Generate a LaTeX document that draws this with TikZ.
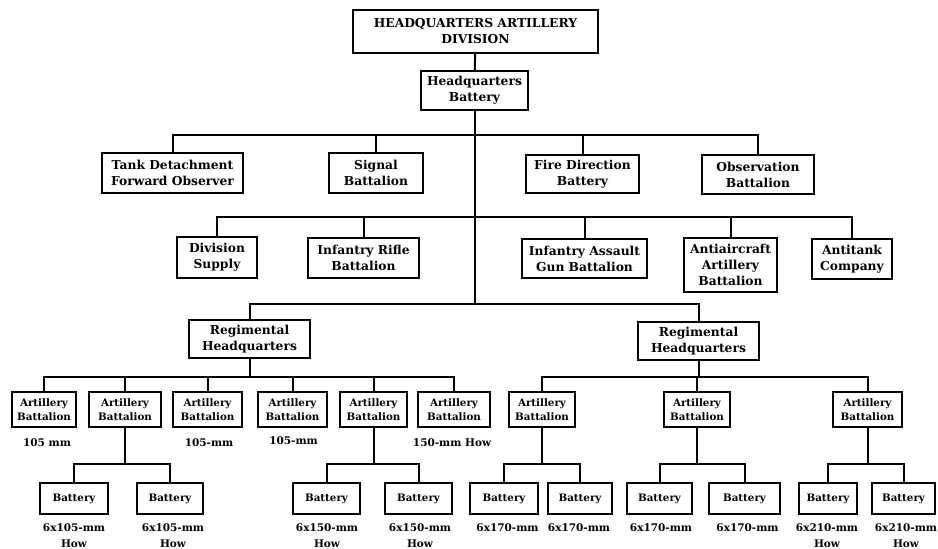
\documentclass[tikz,border=0pt]{standalone}
\usepackage{fontspec}
\setmainfont{DejaVu Serif}
\begin{document}
\begin{tikzpicture}[x=1pt,y=-1pt,
  bx/.style 2 args={draw, line width=2pt, minimum width=#1pt, minimum height=#2pt, inner sep=0pt, align=center, font=\bfseries\fontsize{12.3}{16}\selectfont},
  bsm/.style 2 args={bx={#1}{#2}, font=\bfseries\fontsize{10.3}{14}\selectfont},
  lbl/.style={inner sep=0pt, align=center, font=\bfseries\fontsize{10.5}{16}\selectfont},
  ln/.style={line width=2pt}]
\useasboundingbox (0,0) rectangle (938,549);
% top
\node[bx={245}{43}] (hqd) at (475.5,31.5) {HEADQUARTERS ARTILLERY\\DIVISION};
\node[bx={107}{39}] (hqb) at (474.5,90.5) {Headquarters\\Battery};
% row 1
\node[bx={141}{40}] (tank) at (172.5,173) {Tank Detachment\\Forward Observer};
\node[bx={94}{40}] (sig) at (376,173) {Signal\\Battalion};
\node[bx={113}{38}] (fire) at (582.5,174) {Fire Direction\\Battery};
\node[bx={112}{39}] (obs) at (758,174.5) {Observation\\Battalion};
% row 2
\node[bx={80}{41}] (dsup) at (217,257.5) {Division\\Supply};
\node[bx={111}{40}] (irb) at (363.5,258) {Infantry Rifle\\Battalion};
\node[bx={125}{39}] (iag) at (584.5,258.5) {Infantry Assault\\Gun Battalion};
\node[bx={93}{54}] (aaa) at (730.5,265) {Antiaircraft\\Artillery\\Battalion};
\node[bx={80}{40}] (atc) at (852,259) {Antitank\\Company};
% regimental
\node[bx={121}{38}] (rhqa) at (249.5,339) {Regimental\\Headquarters};
\node[bx={121}{38}] (rhqb) at (698.5,341) {Regimental\\Headquarters};
% battalions
\node[bsm={64}{35}] (ba) at (44,409.5) {Artillery\\Battalion};
\node[bsm={72}{35}] (bb) at (125,409.5) {Artillery\\Battalion};
\node[bsm={69}{35}] (bc) at (207.5,409.5) {Artillery\\Battalion};
\node[bsm={69}{35}] (bd) at (292.5,409.5) {Artillery\\Battalion};
\node[bsm={67}{35}] (be) at (373.5,409.5) {Artillery\\Battalion};
\node[bsm={72}{35}] (bf) at (454,409.5) {Artillery\\Battalion};
\node[bsm={66}{35}] (bg) at (542,409.5) {Artillery\\Battalion};
\node[bsm={66}{35}] (bh) at (697,409.5) {Artillery\\Battalion};
\node[bsm={69}{35}] (bi) at (867.5,409.5) {Artillery\\Battalion};
% batteries
\node[bsm={68}{31}] (ta) at (74,498.5) {Battery};
\node[bsm={66}{31}] (tb) at (170,498.5) {Battery};
\node[bsm={67}{31}] (tc) at (326.5,498.5) {Battery};
\node[bsm={67}{31}] (td) at (418.5,498.5) {Battery};
\node[bsm={68}{31}] (te) at (504,498.5) {Battery};
\node[bsm={64}{31}] (tf) at (580,498.5) {Battery};
\node[bsm={65}{31}] (tg) at (659.5,498.5) {Battery};
\node[bsm={71}{31}] (th) at (744.5,498.5) {Battery};
\node[bsm={58}{31}] (ti) at (828,498.5) {Battery};
\node[bsm={63}{31}] (tj) at (903.5,498.5) {Battery};
% labels
\node[lbl] (la) at (47,443) {105 mm};
\node[lbl] (lc) at (209,443) {105-mm};
\node[lbl] (ld) at (293.5,441) {105-mm};
\node[lbl] (lf) at (452,443) {150-mm How};
\node[lbl] (lta) at (74,535.5) {6x105-mm\\How};
\node[lbl] (ltb) at (173,535.5) {6x105-mm\\How};
\node[lbl] (ltc) at (327,535.5) {6x150-mm\\How};
\node[lbl] (ltd) at (420,535.5) {6x150-mm\\How};
\node[lbl] (lte) at (507.5,528) {6x170-mm};
\node[lbl] (ltf) at (579,528) {6x170-mm};
\node[lbl] (ltg) at (661,528) {6x170-mm};
\node[lbl] (lth) at (747.5,528) {6x170-mm};
\node[lbl] (lti) at (827,535.5) {6x210-mm\\How};
\node[lbl] (ltj) at (906,535.5) {6x210-mm\\How};
% junction coordinates
\coordinate (j1) at (0,135);
\coordinate (j2) at (0,217);
\coordinate (j3) at (0,304);
\coordinate (j4) at (0,377);
\coordinate (j5) at (0,464);
% connectors
\draw[ln] (hqd) -- (hqb);
\draw[ln] (hqb.south) -- (hqb.south |- j3);
\draw[ln] (tank.north) |- (obs.north |- j1) -- (obs.north);
\draw[ln] (sig.north) -- (sig.north |- j1);
\draw[ln] (fire.north) -- (fire.north |- j1);
\draw[ln] (dsup.north) |- (atc.north |- j2) -- (atc.north);
\draw[ln] (irb.north) -- (irb.north |- j2);
\draw[ln] (iag.north) -- (iag.north |- j2);
\draw[ln] (aaa.north) -- (aaa.north |- j2);
\draw[ln] (rhqa.north) |- (rhqb.north |- j3) -- (rhqb.north);
\draw[ln] (rhqa.south) -- (rhqa.south |- j4);
\draw[ln] (ba.north) |- (bf.north |- j4) -- (bf.north);
\foreach \n in {bb,bc,bd,be} \draw[ln] (\n.north) -- (\n.north |- j4);
\draw[ln] (rhqb.south) -- (rhqb.south |- j4);
\draw[ln] (bg.north) |- (bi.north |- j4) -- (bi.north);
\draw[ln] (bh.north) -- (bh.north |- j4);
% battery groups
\draw[ln] (bb.south) -- (bb.south |- j5);
\draw[ln] (ta.north) |- (tb.north |- j5) -- (tb.north);
\draw[ln] (be.south) -- (be.south |- j5);
\draw[ln] (tc.north) |- (td.north |- j5) -- (td.north);
\draw[ln] (bg.south) -- (bg.south |- j5);
\draw[ln] (te.north) |- (tf.north |- j5) -- (tf.north);
\draw[ln] (bh.south) -- (bh.south |- j5);
\draw[ln] (tg.north) |- (th.north |- j5) -- (th.north);
\draw[ln] (bi.south) -- (bi.south |- j5);
\draw[ln] (ti.north) |- (tj.north |- j5) -- (tj.north);
\end{tikzpicture}
\end{document}
